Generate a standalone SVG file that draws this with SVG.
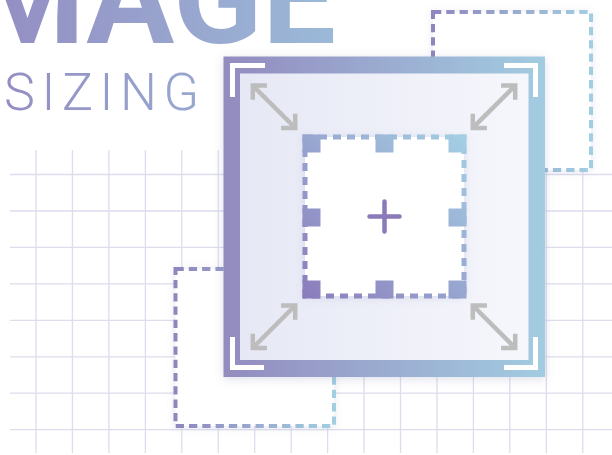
<svg xmlns="http://www.w3.org/2000/svg" width="612" height="455" viewBox="0 0 612 455">
  <defs>
    <style>
      .grid line { stroke: #dddded; stroke-width: 1.3; }
      .dash { fill: #ffffff; stroke-width: 4; stroke-dasharray: 8.3 5; }
      .corner { fill: none; stroke: #ffffff; stroke-width: 5; stroke-linejoin: miter; }
      .arrow { fill: none; stroke: #bdbdbd; stroke-width: 4.5; stroke-linejoin: miter; }
      .title { font-family: Roboto, "Liberation Sans", sans-serif; fill: url(#gTitle); }
    </style>
    <linearGradient id="gTitle" gradientUnits="userSpaceOnUse" x1="0" y1="0" x2="340" y2="0">
      <stop offset="0" stop-color="#948ec3"/>
      <stop offset="1" stop-color="#9bbad8"/>
    </linearGradient>
    <linearGradient id="gBox" x1="0" y1="0" x2="1" y2="0">
      <stop offset="0" stop-color="#8f86be"/>
      <stop offset="1" stop-color="#a2cee2"/>
    </linearGradient>
    <linearGradient id="gFrame" gradientUnits="userSpaceOnUse" x1="223" y1="0" x2="545" y2="0">
      <stop offset="0" stop-color="#938bbf"/>
      <stop offset="1" stop-color="#a2cce1"/>
    </linearGradient>
    <linearGradient id="gInner" gradientUnits="userSpaceOnUse" x1="240" y1="0" x2="528" y2="0">
      <stop offset="0" stop-color="#e6e8f5"/>
      <stop offset="1" stop-color="#f6f7fc"/>
    </linearGradient>
    <linearGradient id="gSq" gradientUnits="userSpaceOnUse" x1="302" y1="299" x2="467" y2="134">
      <stop offset="0" stop-color="#8b7bbb"/>
      <stop offset="1" stop-color="#a4d0e4"/>
    </linearGradient>
    <filter id="shadow" x="-20%" y="-20%" width="140%" height="140%">
      <feDropShadow dx="0" dy="2" stdDeviation="5" flood-color="#6670a0" flood-opacity="0.22"/>
    </filter>
    <filter id="soft" x="-20%" y="-20%" width="140%" height="140%">
      <feDropShadow dx="0" dy="1" stdDeviation="3.5" flood-color="#7a80b0" flood-opacity="0.18"/>
    </filter>
    <g id="dblArrow">
      <line x1="-30" y1="0" x2="30" y2="0"/>
      <polyline points="-20,-10 -30,0 -20,10"/>
      <polyline points="20,-10 30,0 20,10"/>
    </g>
  </defs>

  <rect width="612" height="455" fill="#ffffff"/>

  <g id="grid" class="grid">
    <line x1="10" y1="174.5" x2="612" y2="174.5"/>
    <line x1="10" y1="211" x2="612" y2="211"/>
    <line x1="10" y1="247.4" x2="612" y2="247.4"/>
    <line x1="10" y1="283.9" x2="612" y2="283.9"/>
    <line x1="10" y1="320.3" x2="612" y2="320.3"/>
    <line x1="10" y1="356.8" x2="612" y2="356.8"/>
    <line x1="10" y1="393.2" x2="612" y2="393.2"/>
    <line x1="10" y1="429.7" x2="612" y2="429.7"/>
    <line x1="36" y1="150" x2="36" y2="453"/>
    <line x1="72.45" y1="150" x2="72.45" y2="453"/>
    <line x1="108.9" y1="150" x2="108.9" y2="453"/>
    <line x1="145.35" y1="150" x2="145.35" y2="453"/>
    <line x1="181.8" y1="150" x2="181.8" y2="453"/>
    <line x1="218.25" y1="150" x2="218.25" y2="453"/>
    <line x1="254.7" y1="150" x2="254.7" y2="453"/>
    <line x1="291.15" y1="150" x2="291.15" y2="453"/>
    <line x1="327.6" y1="150" x2="327.6" y2="453"/>
    <line x1="364.05" y1="150" x2="364.05" y2="453"/>
    <line x1="400.5" y1="150" x2="400.5" y2="453"/>
    <line x1="436.95" y1="150" x2="436.95" y2="453"/>
    <line x1="473.4" y1="150" x2="473.4" y2="453"/>
    <line x1="509.85" y1="150" x2="509.85" y2="453"/>
    <line x1="546.3" y1="150" x2="546.3" y2="453"/>
    <line x1="582.75" y1="150" x2="582.75" y2="453"/>
  </g>

  <g id="title">
    <text class="title" x="336" y="43" font-size="131" font-weight="700" text-anchor="end">MAGE</text>
    <text class="title" x="4" y="110" font-size="52" font-weight="300" letter-spacing="6.6">SIZING</text>
  </g>

  <g id="box-top-right" filter="url(#soft)">
    <rect class="dash" x="433" y="12" width="158" height="158" stroke="url(#gBox)"/>
  </g>
  <g id="box-bottom-left" filter="url(#soft)">
    <rect class="dash" x="175.5" y="269" width="158.5" height="157" stroke="url(#gBox)"/>
  </g>

  <g id="frame">
    <rect x="223.5" y="56.5" width="321.5" height="320.5" fill="url(#gFrame)" filter="url(#shadow)"/>
    <rect x="240" y="73.5" width="288.5" height="286.5" fill="url(#gInner)"/>
    <path class="corner" d="M232.5,97 V65.5 H265"/>
    <path class="corner" d="M504,65.5 H535.5 V97"/>
    <path class="corner" d="M232.5,337 V367.5 H264"/>
    <path class="corner" d="M504,367.5 H535.5 V337"/>
  </g>

  <g id="connectors" class="arrow">
    <use href="#dblArrow" transform="translate(274,106.7) rotate(45)"/>
    <use href="#dblArrow" transform="translate(494,106.7) rotate(-45)"/>
    <use href="#dblArrow" transform="translate(274,326.7) rotate(-45)"/>
    <use href="#dblArrow" transform="translate(494,326.7) rotate(45)"/>
  </g>

  <g id="inner-square">
    <rect x="305" y="137" width="159" height="159" fill="#ffffff" stroke="url(#gSq)" stroke-width="5" stroke-dasharray="8 6" filter="url(#soft)"/>
    <g fill="url(#gSq)">
      <rect x="302.5" y="134.5" width="18" height="18"/>
      <rect x="375.5" y="134.5" width="18" height="18"/>
      <rect x="448.5" y="134.5" width="18" height="18"/>
      <rect x="302.5" y="208.5" width="18" height="18"/>
      <rect x="448.5" y="208.5" width="18" height="18"/>
      <rect x="302.5" y="280.5" width="18" height="18"/>
      <rect x="375.5" y="280.5" width="18" height="18"/>
      <rect x="448.5" y="280.5" width="18" height="18"/>
    </g>
    <path d="M369.5,216.5 H399.5 M384.5,201.5 V231.5" stroke="#8a7ab8" stroke-width="4.5" stroke-linecap="round" fill="none"/>
  </g>
</svg>
